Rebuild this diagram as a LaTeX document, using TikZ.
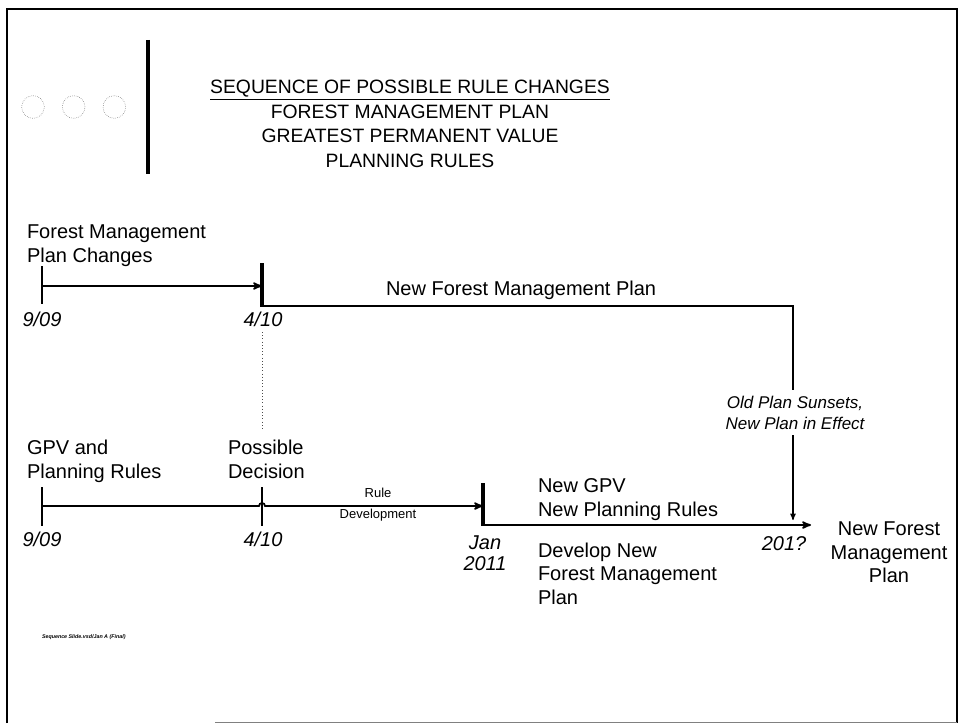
\documentclass[tikz,border=0pt]{standalone}
\usepackage{fontspec}
\setmainfont{Liberation Sans}
\usetikzlibrary{positioning, arrows}
\tikzset{
>=stealth', % makes the arrow heads bold
every node/.style={inner sep=0pt, outer sep=0pt}, % text sits right on its coordinate
phase/.style={font=\fontsize{15}{18}\selectfont, align=left, anchor=north west}, % text of a phase
date/.style={font=\fontsize{15}{15.75}\selectfont\itshape, align=center, anchor=north}, % dates under the lines
note/.style={font=\fontsize{12.75}{15.75}\selectfont\itshape, align=center}, % small italic note
timeline/.style={line width=1.3pt}, % the time lines
milestone/.style={line width=2.6pt}, % heavy bars where a phase starts
tick/.style={line width=0.8pt}, % thin start marks
dotcircle/.style={circle, draw=black!60, densely dotted, minimum size=17pt}, % circles at the top left
}

\begin{document}
\begin{tikzpicture}[x=0.75pt, y=-0.75pt]
  \useasboundingbox (0,0) rectangle (963,724);

  % Frame
  \draw[line width=1.5pt] (7,723) -- (7,9) -- (957,9) -- (957,723);
  \draw[gray, thin] (215,722) -- (957,722);

  % Heading
  \node[dotcircle] (c1) at (33,107) {};
  \node[dotcircle, right=13.5pt of c1] (c2) {};
  \node[dotcircle, right=13.5pt of c2] (c3) {};
  \draw[milestone] (148,40) -- (148,174);
  \node[font=\fontsize{14.5}{18.4}\selectfont, align=center, anchor=north] (title) at (410,80)
    {\underline{SEQUENCE OF POSSIBLE RULE CHANGES}\\FOREST MANAGEMENT PLAN\\GREATEST PERMANENT VALUE\\PLANNING RULES};

  % Time points
  \coordinate (fmpStart) at (42,286);
  \coordinate (fmpDecide) at (262,286);
  \coordinate (fmpTurn) at (793,306);
  \coordinate (fmpEnd) at (793,390);
  \coordinate (gpvStart) at (42,506);
  \coordinate (gpvJump) at (259,506);
  \coordinate (gpvJan) at (483,506);
  \coordinate (newStart) at (483,525);
  \coordinate (newEnd) at (811,525);
  \coordinate (sunsetTail) at (793,435);
  \coordinate (sunsetTip) at (793,520);

  % Forest management plan line
  \node[phase] (fmpText) at (27,225) {Forest Management\\Plan Changes};
  \draw[tick] (42,266) -- (42,304);
  \draw[timeline, ->] (fmpStart) -- (fmpDecide);
  \draw[milestone] (262,263) -- (262,307);
  \draw[timeline] (262,306) -- (fmpTurn) -- (fmpEnd);
  \node[phase] (newFmp) at (386,281) {New Forest Management Plan};
  \node[date] (d1) at (42,312) {9/09};
  \node[date] (d2) at (263,312) {4/10};
  \draw[dotted, thin, black!70] (262,332) -- (262,430);

  % GPV and planning rules line
  \node[phase] (gpvText) at (27,440) {GPV and\\Planning Rules};
  \node[phase] (decision) at (228,440) {Possible\\Decision};
  \draw[tick] (42,487) -- (42,526);
  \draw[tick] (262,487) -- (262,526);
  \draw[timeline, ->] (gpvStart) -- (gpvJump) arc[start angle=180, end angle=360, radius=3] -- (gpvJan);
  \node[font=\fontsize{9.75}{15.6}\selectfont, align=center] (ruleDev) at (378,505) {Rule\\Development};
  \node[date] (d3) at (42,532) {9/09};
  \node[date] (d4) at (263,532) {4/10};
  \node[date] (d5) at (485,536) {Jan\\2011};
  \draw[milestone] (483,483) -- (483,526);
  \draw[timeline, ->] (newStart) -- (newEnd);
  \node[phase] (newGpv) at (538,479) {New GPV\\New Planning Rules};
  \node[phase, font=\fontsize{15}{17.6}\selectfont] (develop) at (538,543) {Develop New\\Forest Management\\Plan};
  \node[date] (d6) at (784,537) {201?};
  \node[phase, align=center, anchor=north, font=\fontsize{15}{17.6}\selectfont] (result) at (889,522) {New Forest\\Management\\Plan};

  % Sunset of the old plan
  \node[note, anchor=north] (sunset) at (795,396) {Old Plan Sunsets,\\New Plan in Effect};
  \draw[tick, ->] (sunsetTail) -- (sunsetTip);

  \node[font=\fontsize{4}{5}\selectfont\bfseries\itshape, anchor=west] (footer) at (42,637) {Sequence Slide.vsd/Jan A (Final)};
\end{tikzpicture}
\end{document}
